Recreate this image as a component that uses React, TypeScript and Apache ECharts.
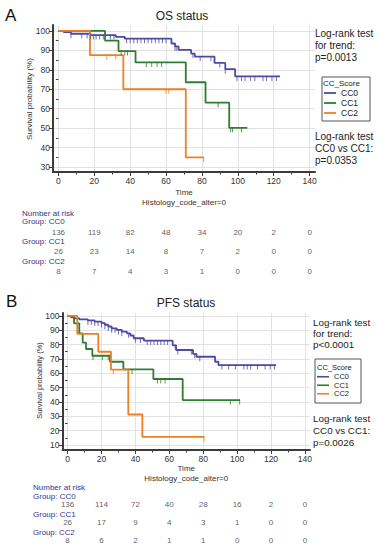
import React, { useEffect, useRef } from "react";
import * as echarts from "echarts";

const FONT = "'Liberation Sans', Arial, Helvetica, sans-serif";
const GROUPS = ["CC0", "CC1", "CC2"];
const COLORS = ["#4b4ba6", "#2f7d32", "#f07f22"];

// axis ticks
const xLabelTicks = [0, 20, 40, 60, 80, 100, 120, 140];
const xMinorTicks = [0, 10, 20, 30, 40, 50, 60, 70, 80, 90, 100, 110, 120, 130, 140];
const yTicksA = [30, 40, 50, 60, 70, 80, 90, 100];
const yMinorA = [35, 45, 55, 65, 75, 85, 95];
const yTicksB = [10, 20, 30, 40, 50, 60, 70, 80, 90, 100];
const yMinorB = [15, 25, 35, 45, 55, 65, 75, 85, 95];

// Panel A (OS) Kaplan-Meier curves [time, survival %]
const osCC0 = [[0, 100], [3, 99.3], [7, 98.5], [18, 97.8], [32, 96.9], [37, 96.0], [63, 93.5], [65, 92.0], [67, 90.2], [74, 88.3], [76, 86.8], [87, 83.5], [93, 80.3], [98.5, 76.6], [123.5, 76.6]];
const osCC1 = [[0, 100], [26, 95], [33.5, 89.6], [43, 83.8], [71, 73.6], [82, 63.1], [95.2, 50.2], [105.3, 50.2]];
const osCC2 = [[0, 100], [17.6, 87.5], [36.2, 70], [71, 35], [81.1, 35]];
// censoring times
const osCensCC0 = [7, 13, 16, 18, 19.5, 21, 23, 25, 29, 31, 38, 40, 42, 44, 46, 48, 50, 52, 54, 56, 58, 60, 65, 66, 75, 79, 85, 90, 93, 99.5, 102, 104, 107, 109.5, 114, 116, 119, 121.5];
const osCensCC1 = [35, 37, 38.5, 49, 52, 55, 57.5, 89, 96, 97, 102];
const osCensCC2 = [27, 32, 60, 61.5, 81];

// Panel B (PFS)
const pfsCC0 = [[0, 100], [2, 99], [4, 98.2], [7, 97.5], [12, 96.8], [16, 96], [20, 95], [22, 93.8], [24, 92.6], [26, 91.3], [29, 90.2], [32, 89], [35, 87.8], [37, 86.3], [39, 84.4], [45, 82.8], [62, 79.5], [64, 76.2], [74, 73.5], [76, 71.5], [87, 68], [89, 65.7], [123, 65.7]];
const pfsCC1 = [[0, 100], [3.8, 94.8], [6.9, 87.8], [8.9, 81.3], [10.9, 76.9], [14.6, 72.2], [25, 68], [32.9, 62.7], [50.6, 56], [67.9, 41.3], [101.7, 41.3]];
const pfsCC2 = [[0, 100], [5.7, 87.5], [18.1, 75], [25.6, 62.5], [35.8, 31.25], [44.1, 15.6], [80.7, 15.6]];
const pfsCensCC0 = [12, 14, 16, 18, 20, 22, 24, 26, 28, 30, 32, 36, 40, 43, 47, 49, 51, 53, 55, 57, 59, 63.5, 65, 73, 75, 78, 91, 95, 99, 104, 106, 108, 112, 116.5, 119.5, 122];
const pfsCensCC1 = [15, 20.5, 24, 38, 53, 55, 57.5, 96, 101.5];
const pfsCensCC2 = [27, 80.5];

// Number at risk
const riskTimes = [0, 20, 40, 60, 80, 100, 120, 140];
const osRiskCC0 = [136, 119, 82, 48, 34, 20, 2, 0];
const osRiskCC1 = [26, 23, 14, 8, 7, 2, 0, 0];
const osRiskCC2 = [8, 7, 4, 3, 1, 0, 0, 0];
const pfsRiskCC0 = [136, 114, 72, 40, 28, 16, 2, 0];
const pfsRiskCC1 = [26, 17, 9, 4, 3, 1, 0, 0];
const pfsRiskCC2 = [8, 6, 2, 1, 1, 0, 0, 0];

const AXIS_COLOR = "#3c3c3c";
const GRID_COLOR = "#e2e2e2";
const NAVY = "#33338c";

function survivalAt(curve: number[][], t: number) {
  let s = curve[0][1];
  for (const [ti, si] of curve) if (ti <= t) s = si;
  return s;
}

function mainX(gridIndex: number, name: string, nameGap: number, nameSize: number) {
  return {
    type: "value", gridIndex, min: -3, max: 143, position: "bottom",
    name, nameLocation: "middle", nameGap,
    nameTextStyle: { fontSize: nameSize, color: "#333", fontFamily: FONT, lineHeight: 10 },
    axisLine: { show: true, onZero: false, lineStyle: { color: AXIS_COLOR, width: 2 } },
    axisTick: { show: true, length: 2.5, customValues: xMinorTicks, lineStyle: { color: AXIS_COLOR, width: 1 } },
    axisLabel: { customValues: xLabelTicks, fontSize: 8.5, color: "#333", margin: 4, fontFamily: FONT },
    splitLine: { show: false },
  };
}
function gridX(gridIndex: number) {
  return {
    type: "value", gridIndex, min: -3, max: 143, position: "bottom",
    axisLine: { show: false }, axisLabel: { show: false },
    axisTick: { show: true, length: 4, customValues: xLabelTicks, lineStyle: { color: AXIS_COLOR, width: 1 } },
    splitLine: { show: true, lineStyle: { color: GRID_COLOR, width: 1 } },
  };
}
function mainY(gridIndex: number, min: number, max: number, ticks: number[]) {
  return {
    type: "value", gridIndex, min, max, position: "left",
    axisLine: { show: true, onZero: false, lineStyle: { color: AXIS_COLOR, width: 2 } },
    axisTick: { show: true, length: 4, customValues: ticks, lineStyle: { color: AXIS_COLOR, width: 1 } },
    axisLabel: { customValues: ticks, fontSize: 8.5, color: "#333", margin: 3, fontFamily: FONT },
    splitLine: { show: true, lineStyle: { color: GRID_COLOR, width: 1 } },
  };
}
function minorY(gridIndex: number, min: number, max: number, ticks: number[]) {
  return {
    type: "value", gridIndex, min, max, position: "left",
    axisLine: { show: false }, axisLabel: { show: false },
    axisTick: { show: true, length: 2.5, customValues: ticks, lineStyle: { color: AXIS_COLOR, width: 1 } },
    splitLine: { show: false },
  };
}

function kmSeries(name: string, data: number[][], xi: number, yi: number, color: string) {
  return {
    type: "line", name, xAxisIndex: xi, yAxisIndex: yi, data, step: "end",
    symbol: "none", showSymbol: false, color,
    lineStyle: { color, width: 1.8 }, silent: true, z: 3,
  };
}
function censorSeries(name: string, curve: number[][], times: number[], xi: number, yi: number, color: string) {
  return {
    type: "scatter", name, xAxisIndex: xi, yAxisIndex: yi,
    data: times.map((t) => [t, survivalAt(curve, t)]),
    symbol: "rect", symbolSize: [1, 5], symbolOffset: [0, 2],
    itemStyle: { color }, silent: true, z: 4,
  };
}
function riskSeries(xi: number, yi: number, rows: number[][]) {
  const data: any[] = [];
  rows.forEach((row, gi) => row.forEach((v, i) => data.push([riskTimes[i], GROUPS[gi], v])));
  return {
    type: "scatter", xAxisIndex: xi, yAxisIndex: yi, data, symbolSize: 1,
    itemStyle: { color: "rgba(0,0,0,0)" }, silent: true,
    label: { show: true, position: "inside", formatter: (p: any) => String(p.value[2]), fontSize: 8, color: "#333", fontFamily: FONT },
  };
}

function txt(x: number, y: number, text: string, fontSize: number, opts: any = {}) {
  return {
    type: "text", x, y, silent: true, rotation: opts.rotation || 0,
    style: { text, fontSize, fontFamily: FONT, fill: opts.fill || "#222", align: opts.align || "left", verticalAlign: opts.va || "middle", lineHeight: opts.lineHeight },
  };
}

export default function App() {
  const ref = useRef<HTMLDivElement>(null);
  useEffect(() => {
    if (!ref.current) return;
    const chart = echarts.init(ref.current, null, { renderer: "svg" });
    const legendData = GROUPS.map((name) => ({ name, icon: "rect" }));
    const option: any = {
      animation: false,
      backgroundColor: "#ffffff",
      textStyle: { fontFamily: FONT },
      grid: [
        { left: 53, top: 25, width: 262, height: 147 },
        { left: 62.5, top: 313, width: 247.5, height: 137 },
        { left: 53, top: 222.25, width: 262, height: 58.5 },
        { left: 62.5, top: 495.5, width: 247.5, height: 57 },
      ],
      xAxis: [
        mainX(0, "Time\nHistology_code_alter=0", 15, 8),
        gridX(0),
        mainX(1, "Time\nHistology_code_alter=0", 13, 8),
        gridX(1),
        { type: "value", gridIndex: 2, min: -3, max: 143, show: false },
        { type: "value", gridIndex: 3, min: -3, max: 143, show: false },
      ],
      yAxis: [
        mainY(0, 27.5, 103, yTicksA),
        minorY(0, 27.5, 103, yMinorA),
        mainY(1, 6.5, 102, yTicksB),
        minorY(1, 6.5, 102, yMinorB),
        { type: "category", gridIndex: 2, data: GROUPS, inverse: true, show: false },
        { type: "category", gridIndex: 3, data: GROUPS, inverse: true, show: false },
      ],
      legend: [
        {
          left: 324, top: 88, orient: "vertical", itemWidth: 12, itemHeight: 1.8, itemGap: 0, padding: 0,
          data: legendData, selectedMode: false,
          textStyle: { fontSize: 8.5, color: "#222", fontFamily: FONT, lineHeight: 10, height: 10 },
        },
        {
          left: 317, top: 372.5, orient: "vertical", itemWidth: 12, itemHeight: 1.6, itemGap: 0, padding: 0,
          data: legendData, selectedMode: false,
          textStyle: { fontSize: 7.5, color: "#222", fontFamily: FONT, lineHeight: 8.5, height: 8.5 },
        },
      ],
      series: [
        kmSeries("CC0", osCC0, 0, 0, COLORS[0]),
        kmSeries("CC1", osCC1, 0, 0, COLORS[1]),
        kmSeries("CC2", osCC2, 0, 0, COLORS[2]),
        censorSeries("os-c0", osCC0, osCensCC0, 0, 0, COLORS[0]),
        censorSeries("os-c1", osCC1, osCensCC1, 0, 0, COLORS[1]),
        censorSeries("os-c2", osCC2, osCensCC2, 0, 0, COLORS[2]),
        kmSeries("CC0", pfsCC0, 2, 2, COLORS[0]),
        kmSeries("CC1", pfsCC1, 2, 2, COLORS[1]),
        kmSeries("CC2", pfsCC2, 2, 2, COLORS[2]),
        censorSeries("pfs-c0", pfsCC0, pfsCensCC0, 2, 2, COLORS[0]),
        censorSeries("pfs-c1", pfsCC1, pfsCensCC1, 2, 2, COLORS[1]),
        censorSeries("pfs-c2", pfsCC2, pfsCensCC2, 2, 2, COLORS[2]),
        riskSeries(4, 4, [osRiskCC0, osRiskCC1, osRiskCC2]),
        riskSeries(5, 5, [pfsRiskCC0, pfsRiskCC1, pfsRiskCC2]),
      ],
      graphic: [
        txt(5, 15, "A", 17, { fill: "#111" }),
        txt(182, 16, "OS status", 12, { align: "center" }),
        txt(29.5, 99, "Survival probability (%)", 8, { align: "center", rotation: Math.PI / 2, fill: "#333" }),
        txt(315, 27.5, "Log-rank test\nfor trend:\np=0.0013", 10, { va: "top", lineHeight: 12 }),
        txt(315, 131, "Log-rank test\nCC0 vs CC1:\np=0.0353", 10, { va: "top", lineHeight: 11.7 }),
        { type: "rect", shape: { x: 322, y: 77, width: 48, height: 44 }, style: { fill: "none", stroke: "#555", lineWidth: 1 }, silent: true },
        txt(323, 83, "CC_Score", 8),
        txt(22, 213, "Number at risk", 8, { fill: NAVY }),
        txt(22, 221.5, "Group: CC0", 8, { fill: NAVY }),
        txt(22, 241.5, "Group: CC1", 8, { fill: NAVY }),
        txt(22, 261, "Group: CC2", 8, { fill: NAVY }),

        txt(6, 301, "B", 17, { fill: "#111" }),
        txt(186, 303, "PFS status", 12, { align: "center" }),
        txt(39, 380.5, "Survival probability (%)", 7.5, { align: "center", rotation: Math.PI / 2, fill: "#333" }),
        txt(313, 316.5, "Log-rank test\nfor trend:\np<0.0001", 9.8, { va: "top", lineHeight: 11 }),
        txt(313, 412, "Log-rank test\nCC0 vs CC1:\np=0.0026", 9.8, { va: "top", lineHeight: 12 }),
        { type: "rect", shape: { x: 315, y: 359, width: 46, height: 44 }, style: { fill: "none", stroke: "#555", lineWidth: 1 }, silent: true },
        txt(317, 367, "CC_Score", 7.5),
        txt(33, 487, "Number at risk", 8, { fill: NAVY }),
        txt(33, 496.5, "Group: CC0", 8, { fill: NAVY }),
        txt(33, 514.5, "Group: CC1", 8, { fill: NAVY }),
        txt(33, 532.5, "Group: CC2", 7.8, { fill: NAVY }),
      ],
    };
    chart.setOption(option);
    return () => chart.dispose();
  }, []);
  return (
    <div
      ref={ref}
      style={{ position: "fixed", left: 0, top: 0, width: 377, height: 550, background: "#fff" }}
    />
  );
}
